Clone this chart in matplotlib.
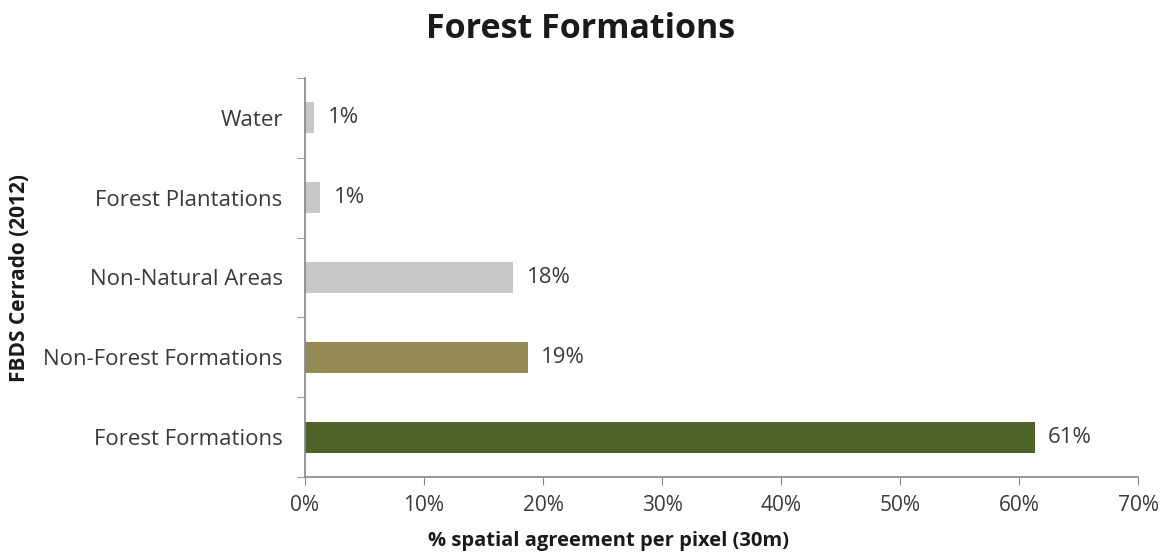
import matplotlib
matplotlib.use("Agg")
import matplotlib.pyplot as plt
from matplotlib.ticker import FixedLocator, PercentFormatter

categories = ["Forest Formations", "Non-Forest Formations", "Non-Natural Areas", "Forest Plantations", "Water"]
values = [61.3, 18.7, 17.5, 1.3, 0.8]
labels = ["61%", "19%", "18%", "1%", "1%"]
colors = ["#4F6228", "#948A54", "#C8C8C8", "#C8C8C8", "#C8C8C8"]

plt.rcParams['font.family'] = ['Open Sans', 'DejaVu Sans']

fig = plt.figure(figsize=(11.64, 5.56), dpi=100)
ax = fig.add_axes([0.262, 0.142, 0.9777 - 0.262, 0.860 - 0.142])

y = list(range(len(categories)))
ax.barh(y, values, height=0.39, color=colors)
for yi, v, lab in zip(y, values, labels):
    ax.text(v + 1.15, yi, lab, va='center', ha='left', fontsize=16, color='#3a3a3a')

ax.set_xlim(0, 70)
ax.set_ylim(-0.5, len(categories) - 0.5)
ax.set_xticks(range(0, 71, 10))
ax.xaxis.set_major_formatter(PercentFormatter(decimals=0))
ax.set_yticks(y)
ax.set_yticklabels(categories)
ax.yaxis.set_minor_locator(FixedLocator([i - 0.5 for i in range(len(categories) + 1)]))
ax.tick_params(axis='y', which='major', length=0, pad=16, labelsize=16, labelcolor='#3a3a3a')
ax.tick_params(axis='y', which='minor', length=6, color='#868686', direction='out')
ax.tick_params(axis='x', which='major', length=6, color='#868686', direction='out', labelsize=15, labelcolor='#3a3a3a', pad=7)

for s in ['top', 'right']:
    ax.spines[s].set_visible(False)
for s in ['left', 'bottom']:
    ax.spines[s].set_color('#868686')
    ax.spines[s].set_linewidth(1.2)

fig.text(609 / 1164, 1 - 541 / 556, "% spatial agreement per pixel (30m)", ha='center', va='center',
         fontsize=14.5, fontweight='bold', color='#1a1a1a')
fig.text(20 / 1164, 1 - 278 / 556, "FBDS Cerrado (2012)", ha='center', va='center', rotation=90,
         fontsize=15, fontweight='bold', color='#1a1a1a')
fig.text(581 / 1164, 1 - 29 / 556, "Forest Formations", ha='center', va='center', fontsize=24.5,
         fontweight='bold', color='#1a1a1a')

fig.savefig("out.png", dpi=100, facecolor='white')
